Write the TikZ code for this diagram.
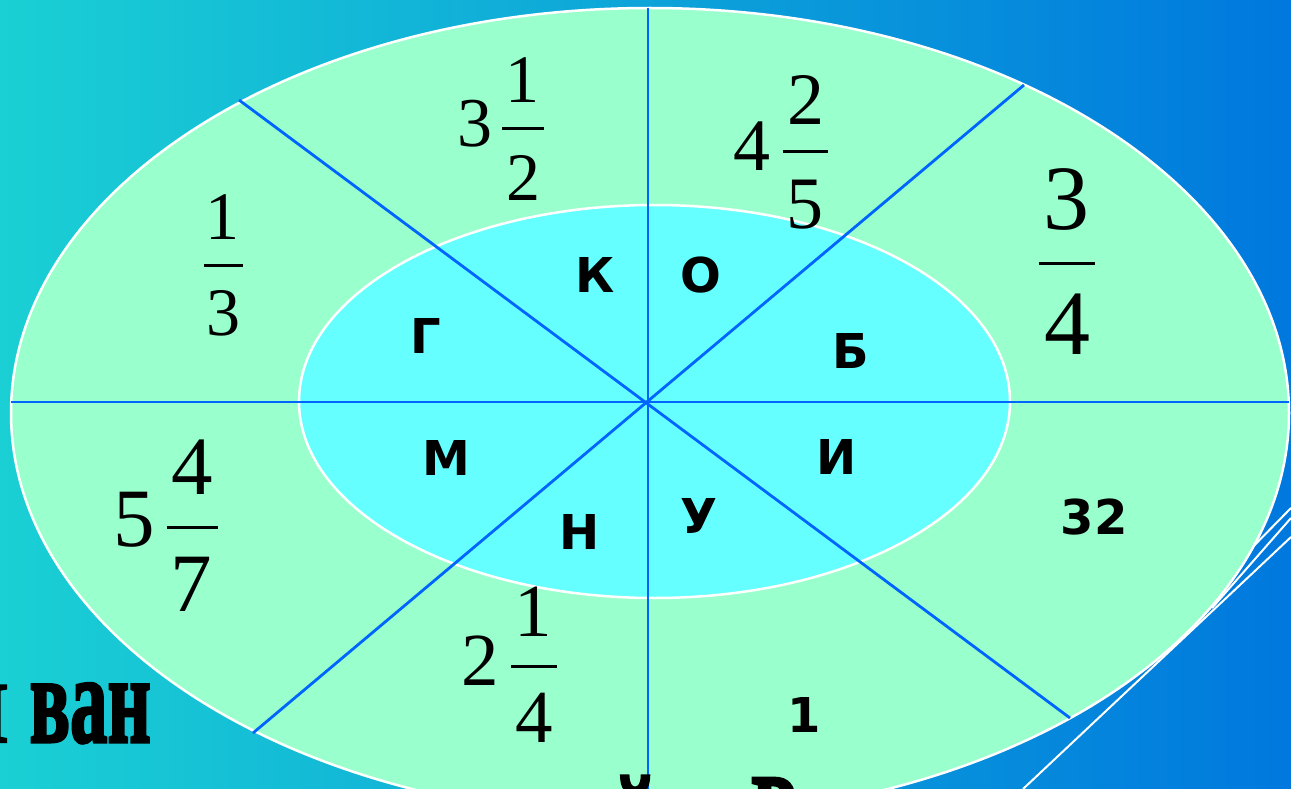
\documentclass[tikz,border=0pt]{standalone}
\usepackage{graphicx}
\usepackage{fontspec}
\newfontfamily\tnr{Liberation Serif}
\newfontfamily\tnrfat{Liberation Serif Bold}[FakeBold=2.5]
\newfontfamily\dvs{DejaVu Sans}
\newcommand{\fsz}[1]{\fontsize{#1}{#1}\selectfont}
\definecolor{bgL}{RGB}{26,208,212}
\definecolor{bgM}{RGB}{12,164,226}
\definecolor{bgR}{RGB}{0,120,222}
\definecolor{outerfill}{RGB}{153,255,204}
\definecolor{innerfill}{RGB}{102,255,255}
\definecolor{spokeblue}{RGB}{0,100,255}
\tikzset{
  dig/.style={inner sep=0pt, text=black},
  letter/.style={inner sep=0pt, text=black, font=\dvs\bfseries\fsz{48}},
  fbar/.style={line width=3pt, black},
  spoke/.style={line width=2.8pt, draw=spokeblue},
  rim/.style={draw=white, line width=2.5pt},
  deco/.style={draw=white, line width=2pt},
  slidetext/.style={inner sep=0pt, text=black, font=\tnrfat\fsz{125}},
}
\begin{document}
\begin{tikzpicture}[x=1pt,y=-1pt]
\useasboundingbox (0,0) rectangle (1291,789);
\clip (0,0) rectangle (1291,789);
% background
\shade[left color=bgL, middle color=bgM, right color=bgR] (0,0) rectangle (1291,789);
% decorative white lines (behind ellipse)
\coordinate (w1a) at (1291,508); \coordinate (w1b) at (1235,565);
\coordinate (w2a) at (1291,518); \coordinate (w2b) at (1212,608);
\coordinate (w3a) at (1291,537); \coordinate (w3b) at (1023,789);
\draw[deco] (w1a) -- (w1b);
\draw[deco] (w2a) -- (w2b);
\draw[deco] (w3a) -- (w3b);
% ellipses
\fill[outerfill] (650,413) ellipse [x radius=639, y radius=405];
\draw[rim] (650,413) ellipse [x radius=639, y radius=405];
\fill[innerfill] (654.5,401.5) ellipse [x radius=355.5, y radius=196.5];
\draw[rim] (654.5,401.5) ellipse [x radius=355.5, y radius=196.5];
% spokes
\coordinate (c) at (648,402);
\coordinate (top) at (648,8);     \coordinate (bot) at (648,800);
\coordinate (lft) at (11,402);    \coordinate (rgt) at (1289,402);
\coordinate (ul) at (239,100);    \coordinate (lr) at (1070,718);
\coordinate (ur) at (1024,85);    \coordinate (ll) at (253,733);
\draw[spoke] (top) -- (bot);
\draw[spoke] (lft) -- (rgt);
\draw[spoke] (ul) -- (lr);
\draw[spoke] (ur) -- (ll);
% fraction 1/3
\node[dig, font=\tnr\fsz{68}] (n13) at (222,217.5) {1};
\node[dig, font=\tnr\fsz{68}] (d13) at (223,313) {3};
\draw[fbar] (204,265) -- (243,265);
% 3 1/2
\node[dig, font=\tnr\fsz{70}] (w312) at (474.5,124) {3};
\node[dig, font=\tnr\fsz{68}] (n312) at (522.5,80.5) {1};
\node[dig, font=\tnr\fsz{68}] (d312) at (523,177.5) {2};
\draw[fbar] (502,129) -- (544,129);
% 4 2/5
\node[dig, font=\tnr\fsz{74}] (w425) at (751.5,146.5) {4};
\node[dig, font=\tnr\fsz{74}] (n425) at (805.5,100) {2};
\node[dig, font=\tnr\fsz{74}] (d425) at (804.5,205) {5};
\draw[fbar] (783,152) -- (828,152);
% 3/4
\node[dig, font=\tnr\fsz{92}] (n34) at (1066,199) {3};
\node[dig, font=\tnr\fsz{92}] (d34) at (1067,324) {4};
\draw[fbar] (1039,263) -- (1095,263);
% 5 4/7
\node[dig, font=\tnr\fsz{83}] (w547) at (134.5,519.5) {5};
\node[dig, font=\tnr\fsz{83}] (n547) at (192.5,467) {4};
\node[dig, font=\tnr\fsz{83}] (d547) at (191.5,584.5) {7};
\draw[fbar] (167,527) -- (218,527);
% 2 1/4
\node[dig, font=\tnr\fsz{75}] (w214) at (480.5,660.5) {2};
\node[dig, font=\tnr\fsz{75}] (n214) at (533.5,612) {1};
\node[dig, font=\tnr\fsz{75}] (d214) at (534.5,718) {4};
\draw[fbar] (511,666) -- (557,666);
% bold numbers
\node[letter] (t32) at (1094,517) {32};
\node[letter] (t1) at (804.5,714.5) {1};
% inner letters
\node[letter] (lK) at (595,275.5) {К};
\node[letter] (lO) at (701,275.5) {О};
\node[letter] (lG) at (425.5,336.5) {Г};
\node[letter] (lB) at (850.5,351.5) {Б};
\node[letter] (lM) at (446,458) {М};
\node[letter] (lI) at (837,457) {И};
\node[letter] (lN) at (579.5,532.5) {Н};
\node[letter] (lU) at (699,516.5) {У};
% clipped slide text
\node[slidetext, anchor=base east] (ivan) at (151,742) {\scalebox{0.6}[1]{\scalebox{1}[0.69]{И}\kern 37pt ван}};
\node[slidetext, anchor=base] (ij) at (635,862) {\scalebox{0.6}[1]{й}};
\node[slidetext, anchor=base west] (er) at (751,860) {\scalebox{0.6}[1]{Р}};
\end{tikzpicture}
\end{document}
